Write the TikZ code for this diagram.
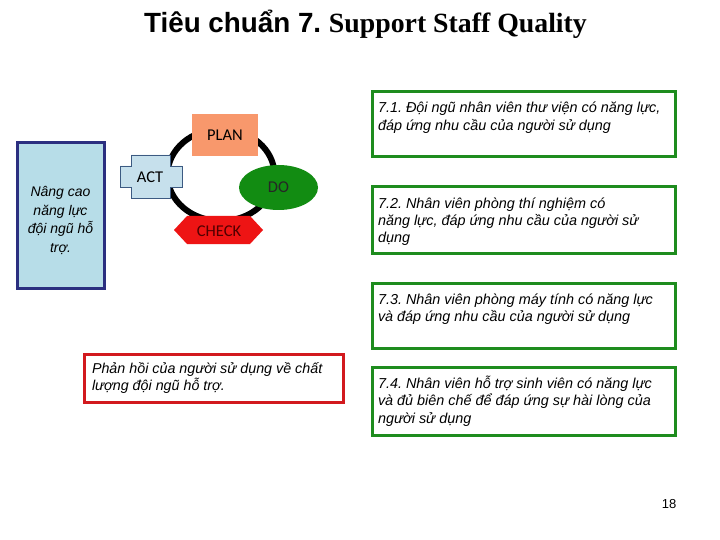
\documentclass[tikz,border=0pt]{standalone}
\usepackage{fontspec}
\setmainfont{Liberation Sans}
\newfontfamily\serifbold{Liberation Serif}
\newfontfamily\calibfont{Carlito}
\usetikzlibrary{shapes.geometric}
\frenchspacing
\definecolor{navyb}{RGB}{43,47,128}
\definecolor{leftfill}{RGB}{183,221,232}
\definecolor{boxgreen}{RGB}{30,140,30}
\definecolor{boxred}{RGB}{210,25,30}
\definecolor{planfill}{RGB}{248,152,108}
\definecolor{actfill}{RGB}{198,224,236}
\definecolor{actdraw}{RGB}{60,90,130}
\definecolor{dofill}{RGB}{18,140,18}
\definecolor{checkfill}{RGB}{238,20,20}
\definecolor{checktext}{RGB}{80,0,0}
\newcommand{\boxtext}[4]{\parbox[c][#2pt][t]{#1pt}{\fontsize{#4}{17.5}\selectfont\itshape\rule{0pt}{14pt}#3}}
\newcommand{\boxtextc}[3]{\parbox[c][#2pt][t]{#1pt}{\centering\fontsize{14}{18.5}\selectfont\itshape\rule{0pt}{14pt}#3}}
\tikzset{
  gbox/.style={draw=boxgreen, line width=3pt, minimum width=303pt, inner sep=0pt},
  rbox/.style={draw=boxred, line width=3pt, inner sep=0pt},
  lbox/.style={draw=navyb, fill=leftfill, line width=3pt, inner sep=0pt},
  pdca/.style={font=\calibfont\fontsize{16.5}{18}\selectfont, inner sep=0pt},
}
\begin{document}
\begin{tikzpicture}[x=1pt,y=-1pt]
\useasboundingbox (0,0) rectangle (720,540);
\fill[white] (0,0) rectangle (720,540);

% title
\node[anchor=base, inner sep=0pt] (title) at (365.5,32.5)
  {\fontsize{27.8}{30}\selectfont\bfseries Tiêu chuẩn 7. {\serifbold\bfseries Support Staff Quality}};

% left box
\node[lbox, minimum width=87pt, minimum height=145pt] (left) at (60.5,215.5)
  {\boxtextc{80}{65}{Nâng cao\\ năng lực\\ đội ngũ hỗ\\ trợ.}};

% PDCA ring
\draw[line width=6pt, black] (221,175) ellipse [x radius=53.5pt, y radius=46pt];

\node[pdca, fill=planfill, minimum width=66pt, minimum height=42pt] (plan) at (225,135) {PLAN};
\draw[fill=actfill, draw=actdraw, line width=0.6pt]
  (131,155) -- (170,155) -- (170,166) -- (182,166) -- (182,187) -- (170,187) -- (170,198)
  -- (131,198) -- (131,187) -- (120,187) -- (120,166) -- (131,166) -- cycle;
\node[pdca] (act) at (150,177) {ACT};
\node[pdca, ellipse, fill=dofill, minimum width=79pt, minimum height=45pt, text=black!85] (do) at (278.5,187.5) {DO};
\fill[checkfill] (174,230) -- (187,216) -- (250,216) -- (263,230) -- (250,244) -- (187,244) -- cycle;
\node[pdca, text=checktext] (check) at (219,231) {CHECK};

% right boxes
\node[gbox, minimum height=65pt] (b1) at (523.5,124.5)
  {\boxtext{291}{51}{7.1. Đội ngũ nhân viên thư viện có năng lực,\\ đáp ứng nhu cầu của người sử dụng}{14.4}};
\node[gbox, minimum height=66pt] (b2) at (523.5,220)
  {\boxtext{291}{52}{7.2. Nhân viên phòng thí nghiệm có\\ năng lực, đáp ứng nhu cầu của người sử\\ dụng}{14.4}};
\node[gbox, minimum height=65pt] (b3) at (523.5,315.5)
  {\boxtext{291}{51}{7.3. Nhân viên phòng máy tính có năng lực\\ và đáp ứng nhu cầu của người sử dụng}{14.4}};
\node[gbox, minimum height=68pt] (b4) at (523.5,401)
  {\boxtext{291}{54}{7.4. Nhân viên hỗ trợ sinh viên có năng lực\\ và đủ biên chế để đáp ứng sự hài lòng của\\ người sử dụng}{14.4}};

% red box
\node[rbox, minimum width=259pt, minimum height=48pt] (fb) at (213.5,378)
  {\boxtext{243}{38}{Phản hồi của người sử dụng về chất\\ lượng đội ngũ hỗ trợ.}{14.3}};

% page number
\node[inner sep=0pt, font=\fontsize{13}{15}\selectfont] (pg) at (669,504) {18};
\end{tikzpicture}
\end{document}
